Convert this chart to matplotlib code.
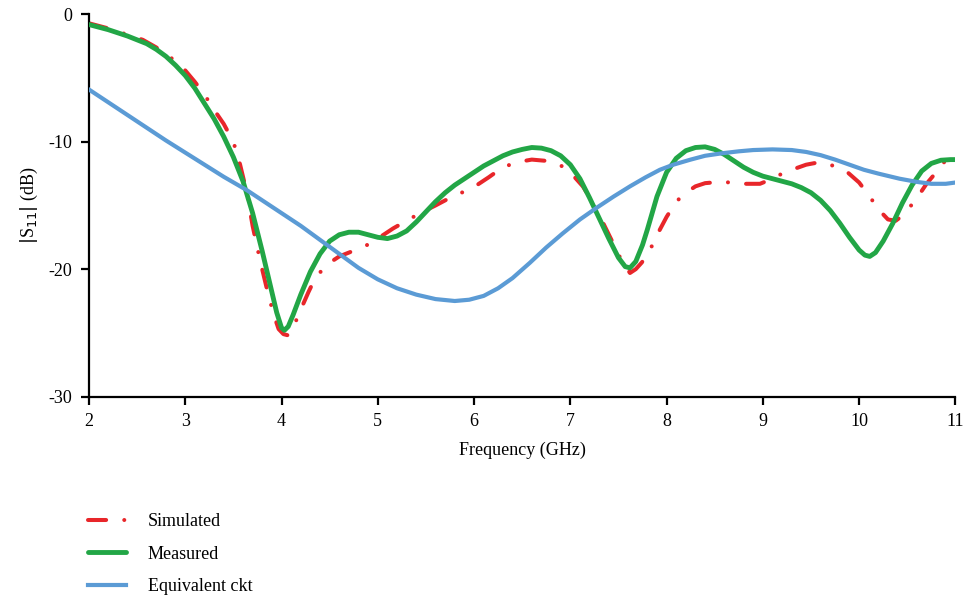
import numpy as np
import matplotlib.pyplot as plt

plt.rcParams['font.family'] = ['Liberation Serif', 'DejaVu Serif']
plt.rcParams['axes.unicode_minus'] = False

# Simulated |S11| (dB)
f_sim = [2.0, 2.2, 2.4, 2.56, 2.7, 2.8, 2.9, 3.0, 3.1, 3.2, 3.3, 3.4, 3.5, 3.57, 3.64,
         3.7, 3.78, 3.85, 3.92, 3.97, 4.02, 4.07, 4.12, 4.21, 4.28, 4.35, 4.43, 4.5,
         4.6, 4.7, 4.8, 4.89, 5.0, 5.16, 5.3, 5.44, 5.6, 5.75, 5.9, 6.03, 6.15, 6.3,
         6.45, 6.6, 6.75, 6.89, 7.0, 7.13, 7.22, 7.31, 7.44, 7.55, 7.62, 7.68, 7.74,
         7.79, 7.86, 7.93, 8.0, 8.1, 8.2, 8.3, 8.4, 8.55, 8.67, 8.8, 8.97, 9.1, 9.2,
         9.3, 9.45, 9.59, 9.7, 9.8, 9.88, 10.0, 10.11, 10.2, 10.3, 10.38, 10.45, 10.53,
         10.62, 10.7, 10.8, 10.87, 10.95, 11.0]
s_sim = [-0.7, -1.1, -1.6, -2.0, -2.6, -3.1, -3.7, -4.4, -5.3, -6.3, -7.5, -8.6, -10.0, -11.8, -14.0,
         -16.6, -19.4, -21.6, -23.6, -24.7, -25.1, -25.2, -24.6, -23.0, -21.8, -20.7, -20.0, -19.5,
         -19.0, -18.7, -18.4, -18.1, -17.6, -16.8, -16.2, -15.6, -15.0, -14.4, -13.9, -13.4, -12.8, -12.0,
         -11.6, -11.4, -11.5, -11.8, -12.4, -13.5, -14.6, -15.9, -17.9, -19.6, -20.3, -20.0, -19.5,
         -19.0, -18.0, -16.9, -15.9, -14.7, -14.0, -13.5, -13.25, -13.15, -13.2, -13.3, -13.3, -12.9, -12.5,
         -12.2, -11.8, -11.6, -11.8, -12.1, -12.4, -13.2, -14.3, -15.3, -16.1, -16.2, -15.8, -15.1,
         -14.2, -13.3, -12.4, -11.7, -11.1, -10.8]

# Measured |S11| (dB)
f_meas = [2.0, 2.1, 2.2, 2.3, 2.4, 2.5, 2.6, 2.7, 2.8, 2.9, 3.0, 3.1, 3.2, 3.3, 3.4,
          3.5, 3.6, 3.7, 3.8, 3.9, 3.95, 4.0, 4.03, 4.07, 4.12, 4.2, 4.3, 4.4, 4.5,
          4.6, 4.7, 4.8, 4.9, 5.0, 5.1, 5.2, 5.3, 5.4, 5.5, 5.6, 5.7, 5.8, 5.9, 6.0,
          6.1, 6.2, 6.3, 6.4, 6.5, 6.6, 6.7, 6.8, 6.9, 7.0, 7.1, 7.2, 7.3, 7.4, 7.5,
          7.57, 7.62, 7.68, 7.75, 7.8, 7.9, 8.0, 8.1, 8.2, 8.3, 8.4, 8.5, 8.6, 8.7,
          8.8, 8.9, 9.0, 9.1, 9.2, 9.3, 9.4, 9.5, 9.6, 9.7, 9.8, 9.9, 10.0, 10.06,
          10.11, 10.17, 10.25, 10.35, 10.45, 10.55, 10.65, 10.75, 10.85, 10.95, 11.0]
s_meas = [-0.8, -1.0, -1.2, -1.45, -1.7, -2.0, -2.3, -2.75, -3.3, -4.0, -4.8, -5.8, -7.0, -8.2, -9.6,
          -11.2, -13.1, -15.6, -18.6, -21.8, -23.4, -24.6, -24.8, -24.5, -23.6, -22.0, -20.2, -18.8, -17.8,
          -17.3, -17.1, -17.1, -17.3, -17.5, -17.6, -17.4, -17.0, -16.3, -15.5, -14.7, -14.0, -13.4, -12.9, -12.4,
          -11.9, -11.5, -11.1, -10.8, -10.6, -10.45, -10.5, -10.7, -11.1, -11.8, -12.9, -14.4, -16.0, -17.6, -19.1,
          -19.8, -19.9, -19.4, -18.1, -16.9, -14.3, -12.4, -11.3, -10.7, -10.45, -10.4, -10.6, -11.0, -11.5,
          -12.0, -12.4, -12.7, -12.9, -13.1, -13.3, -13.6, -14.0, -14.6, -15.4, -16.4, -17.5, -18.5, -18.9,
          -19.0, -18.7, -17.8, -16.4, -14.8, -13.4, -12.3, -11.7, -11.45, -11.4, -11.4]

# Equivalent circuit |S11| (dB)
f_ckt = [2.0, 2.2, 2.4, 2.6, 2.8, 3.0, 3.2, 3.4, 3.64, 3.8, 4.0, 4.2, 4.4, 4.6, 4.8,
         5.0, 5.2, 5.4, 5.6, 5.8, 5.95, 6.1, 6.25, 6.4, 6.58, 6.75, 6.92, 7.1, 7.27,
         7.45, 7.62, 7.78, 7.93, 8.07, 8.25, 8.4, 8.58, 8.75, 8.9, 9.1, 9.3, 9.45,
         9.6, 9.75, 9.9, 10.05, 10.2, 10.42, 10.6, 10.75, 10.9, 11.0]
s_ckt = [-5.9, -6.9, -7.9, -8.9, -9.9, -10.85, -11.8, -12.75, -13.8, -14.6, -15.6, -16.6, -17.7, -18.8, -19.9,
         -20.8, -21.5, -22.0, -22.35, -22.5, -22.4, -22.1, -21.5, -20.7, -19.5, -18.3, -17.2, -16.1, -15.2,
         -14.3, -13.5, -12.8, -12.2, -11.8, -11.4, -11.1, -10.9, -10.75, -10.65, -10.6, -10.65, -10.8,
         -11.05, -11.4, -11.8, -12.2, -12.5, -12.9, -13.15, -13.3, -13.3, -13.2]

fig = plt.figure(figsize=(9.67, 5.99), dpi=100)
ax = fig.add_axes([0.092, 0.338, 0.896, 0.638])

ax.plot(f_sim, s_sim, color='#e8262a', lw=2.9, dash_capstyle='round',
        linestyle=(0, (4.5, 4.5, 0.01, 4.5)), label='Simulated', zorder=2)
ax.plot(f_meas, s_meas, color='#22a646', lw=3.5, solid_joinstyle='round',
        solid_capstyle='round', label='Measured', zorder=3)
ax.plot(f_ckt, s_ckt, color='#5b9bd5', lw=3.0, solid_joinstyle='round',
        label='Equivalent ckt', zorder=4)

ax.set_xlim(2, 11)
ax.set_ylim(-30, 0)
ax.set_xticks(range(2, 12))
ax.set_yticks([0, -10, -20, -30])
for side in ['top', 'right']:
    ax.spines[side].set_visible(False)
for side in ['left', 'bottom']:
    ax.spines[side].set_linewidth(1.6)
ax.tick_params(direction='out', length=6, width=1.6, labelsize=13, pad=6)

ax.set_xlabel('Frequency (GHz)', fontsize=13, labelpad=8)
ax.set_ylabel('$|$S$_{11}|$ (dB)', fontsize=13, labelpad=6)

ax.legend(loc='upper left', bbox_to_anchor=(0.091, 0.143), bbox_transform=fig.transFigure,
          frameon=False, fontsize=13, handlelength=2.1, handletextpad=1.2,
          labelspacing=0.85, borderaxespad=0, borderpad=0)

fig.savefig('out.png', dpi=100)
